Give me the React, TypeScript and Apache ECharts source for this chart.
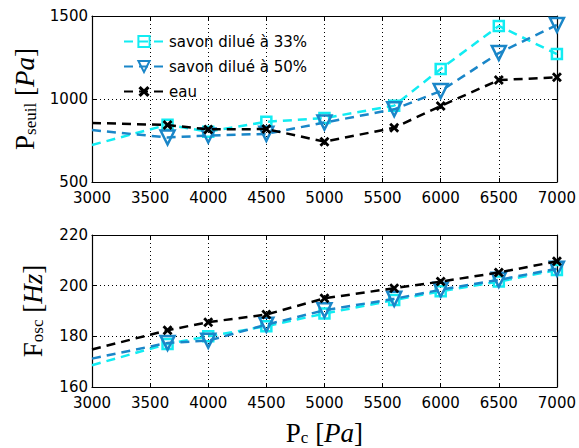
import React, { useEffect, useRef } from "react";
import * as echarts from "echarts";

const xTicks = [3000, 3500, 4000, 4500, 5000, 5500, 6000, 6500, 7000];
const xPressure = [3000, 3650, 4000, 4500, 5000, 5600, 6000, 6500, 7000];

const seuil33 = [723, 845, 803, 863, 885, 960, 1181, 1440, 1271];
const seuil50 = [813, 768, 780, 790, 858, 938, 1048, 1277, 1446];
const seuilEau = [856, 843, 817, 819, 743, 827, 958, 1114, 1131];

const osc33 = [168.6, 177.0, 180.0, 184.0, 189.0, 194.3, 197.8, 201.6, 206.2];
const osc50 = [171.2, 177.4, 178.3, 184.6, 190.3, 194.8, 198.4, 202.3, 206.7];
const oscEau = [174.8, 182.4, 185.6, 188.6, 195.0, 199.0, 201.6, 205.2, 209.6];

const seriesNames = ["savon dilué à 33%", "savon dilué à 50%", "eau"];
const colors = ["#12ecf2", "#1a86c8", "#000000"];

const X_PATH =
  "path://M2,0 L5,3 L8,0 L10,2 L7,5 L10,8 L8,10 L5,7 L2,10 L0,8 L3,5 L0,2 Z";

function toData(ys: number[]) {
  return ys.map((y, i) =>
    i === 0 ? { value: [xPressure[i], y], symbol: "none" } : { value: [xPressure[i], y] }
  );
}

export default function App() {
  const ref = useRef<HTMLDivElement>(null);
  useEffect(() => {
    if (!ref.current) return;
    const chart = echarts.init(ref.current, null, { renderer: "svg" });
    const tickFont = {
      fontFamily: "DejaVu Sans",
      fontSize: 15,
      color: "#000",
      formatter: (v: number) => String(v),
    };
    const split = { show: true, lineStyle: { color: "#000", type: [1, 3], width: 1 } };
    const line = { show: true, lineStyle: { color: "#000", width: 1.2 } };
    const tick = { show: true, inside: true, length: 4, lineStyle: { color: "#000" } };
    const nameRich = {
      a: { fontFamily: "Liberation Serif", fontSize: 27, color: "#000", verticalAlign: "bottom", lineHeight: 28 },
      b: { fontFamily: "Liberation Serif", fontSize: 17, color: "#000", verticalAlign: "bottom", lineHeight: 11 },
      c: { fontFamily: "Liberation Serif", fontSize: 27, color: "#000", verticalAlign: "bottom", lineHeight: 28 },
      d: { fontFamily: "Liberation Serif", fontSize: 27, fontStyle: "italic", color: "#000", verticalAlign: "bottom", lineHeight: 28 },
    };
    const mkSeries = (name: string, ys: number[], idx: number, k: number) => {
      const base: any = {
        name,
        type: "line",
        xAxisIndex: k,
        yAxisIndex: k,
        data: toData(ys),
        lineStyle: { color: colors[idx], width: 2.5, type: [9, 6] },
        itemStyle: { color: colors[idx] },
        clip: true,
        z: 3 + idx,
      };
      if (idx === 0) {
        base.symbol = "rect";
        base.symbolSize = 10;
        base.itemStyle = { color: "rgba(255,255,255,0)", borderColor: colors[0], borderWidth: 2.5 };
      } else if (idx === 1) {
        base.symbol = "triangle";
        base.symbolRotate = 180;
        base.symbolSize = 14;
        base.itemStyle = { color: "rgba(255,255,255,0)", borderColor: colors[1], borderWidth: 2.5 };
      } else {
        base.symbol = X_PATH;
        base.symbolSize = 10;
        base.itemStyle = { color: "#000" };
      }
      return base;
    };
    const xAxisBase = (k: number, showName: boolean) => ({
      type: "value",
      gridIndex: k,
      min: xTicks[0],
      max: xTicks[xTicks.length - 1],
      interval: 500,
      axisLabel: { ...tickFont, margin: 8, showMinLabel: true, showMaxLabel: true },
      axisLine: line,
      axisTick: tick,
      splitLine: split,
      ...(showName
        ? {
            name: "{a|P}{b|c}{c| [}{d|Pa}{c|]}",
            nameLocation: "middle",
            nameGap: 31,
            nameTextStyle: { rich: nameRich },
          }
        : {}),
    });
    const sideX = (k: number) => ({
      type: "value",
      gridIndex: k,
      position: "top",
      min: xTicks[0],
      max: xTicks[xTicks.length - 1],
      interval: 500,
      axisLabel: { show: false },
      axisLine: line,
      axisTick: tick,
      splitLine: { show: false },
    });
    const sideY = (k: number, min: number, max: number, interval: number) => ({
      type: "value",
      gridIndex: k,
      position: "right",
      min,
      max,
      interval,
      axisLabel: { show: false },
      axisLine: line,
      axisTick: tick,
      splitLine: { show: false },
    });
    chart.setOption({
      animation: false,
      backgroundColor: "#fff",
      grid: [
        { left: 92, top: 16, width: 466, height: 166 },
        { left: 92, top: 235, width: 466, height: 152 },
      ],
      legend: {
        data: seriesNames,
        orient: "vertical",
        left: 118,
        top: 29,
        itemWidth: 40,
        itemHeight: 14,
        itemGap: 10,
        textStyle: { fontFamily: "DejaVu Sans", fontSize: 15, color: "#000" },
        selectedMode: false,
      },
      xAxis: [xAxisBase(0, false), xAxisBase(1, true), sideX(0), sideX(1)],
      yAxis: [
        {
          type: "value",
          gridIndex: 0,
          min: 500,
          max: 1500,
          interval: 500,
          axisLabel: { ...tickFont, margin: 4 },
          axisLine: line,
          axisTick: tick,
          splitLine: split,
          name: "{a|P}{b|seuil}{c| [}{d|Pa}{c|]}",
          nameLocation: "middle",
          nameRotate: 90,
          nameGap: 51,
          nameTextStyle: { rich: nameRich },
        },
        {
          type: "value",
          gridIndex: 1,
          min: 160,
          max: 220,
          interval: 20,
          axisLabel: { ...tickFont, margin: 4 },
          axisLine: line,
          axisTick: tick,
          splitLine: split,
          name: "{a|F}{b|osc}{c| [}{d|Hz}{c|]}",
          nameLocation: "middle",
          nameRotate: 90,
          nameGap: 46,
          nameTextStyle: { rich: nameRich },
        },
        sideY(0, 500, 1500, 500),
        sideY(1, 160, 220, 20),
      ],
      series: [
        mkSeries(seriesNames[0], seuil33, 0, 0),
        mkSeries(seriesNames[1], seuil50, 1, 0),
        mkSeries(seriesNames[2], seuilEau, 2, 0),
        mkSeries(seriesNames[0], osc33, 0, 1),
        mkSeries(seriesNames[1], osc50, 1, 1),
        mkSeries(seriesNames[2], oscEau, 2, 1),
      ],
    });
    return () => chart.dispose();
  }, []);
  return <div ref={ref} style={{ width: 579, height: 448, position: "absolute", left: 0, top: 0 }} />;
}
